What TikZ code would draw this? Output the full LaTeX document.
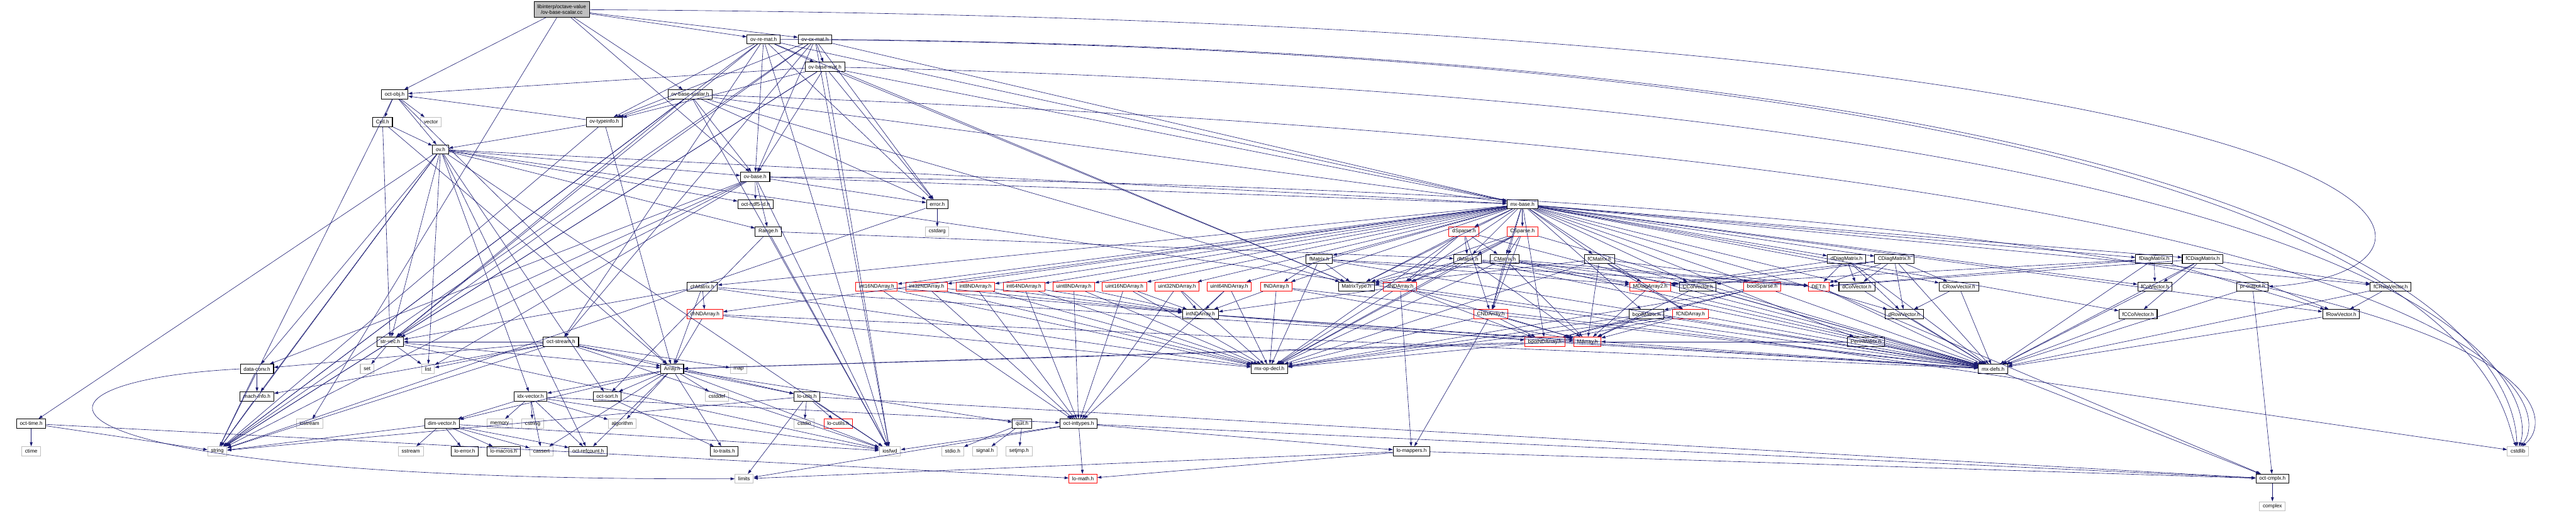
\documentclass[tikz,border=0pt]{standalone}
\usepackage{fontspec}
\setmainfont{Liberation Sans}
\usepackage{tikz}
\usetikzlibrary{arrows.meta}
\definecolor{edgeBlue}{HTML}{191970}
\definecolor{sysGray}{HTML}{BFBFBF}
\definecolor{truncRed}{HTML}{FF0000}

\tikzset{
  hdr/.style={draw=black, fill=white, line width=0.5pt, inner xsep=0.09cm, inner ysep=0pt,
    minimum height=0.25cm, font=\fontsize{4}{4.5}\selectfont},
  trunc/.style={hdr, draw=truncRed},
  sys/.style={hdr, draw=sysGray},
  rootnode/.style={hdr, fill=sysGray, align=center, minimum height=0.42cm},
  dep/.style={draw=edgeBlue, line width=0.3pt, -{Triangle[length=0.11cm, width=0.075cm]}}
}

\begin{document}
\begin{tikzpicture}
  \useasboundingbox (0,0) rectangle (70.17,-13.96);

  % Top part
  \node[rootnode] (root) at (15.30,-0.26) {libinterp/octave-value\\/ov-base-scalar.cc};
  \node[hdr] (ovremat) at (20.80,-1.07) {ov-re-mat.h};
  \node[hdr] (ovcxmat) at (22.20,-1.07) {ov-cx-mat.h};
  \node[hdr] (ovbasemat) at (22.47,-1.82) {ov-base-mat.h};
  \node[hdr] (ovbasescalar) at (18.80,-2.57) {ov-base-scalar.h};
  \node[hdr] (ovtypeinfo) at (16.46,-3.32) {ov-typeinfo.h};
  \node[hdr] (octobj) at (10.75,-2.57) {oct-obj.h};
  \node[hdr] (cell) at (10.42,-3.32) {Cell.h};
  \node[sys] (vector) at (11.74,-3.32) {vector};
  \node[hdr] (ovh) at (12.00,-4.07) {ov.h};
  \node[hdr] (ovbase) at (20.57,-4.81) {ov-base.h};
  \node[hdr] (hdfid) at (20.58,-5.56) {oct-hdf5-id.h};
  \node[hdr] (range) at (20.93,-6.30) {Range.h};
  \node[hdr] (error) at (25.53,-5.56) {error.h};
  \node[sys] (cstdarg) at (25.53,-6.30) {cstdarg};

  % Matrix headers
  \node[hdr] (mxbase) at (41.47,-5.56) {mx-base.h};
  \node[trunc] (dsparse) at (39.88,-6.30) {dSparse.h};
  \node[trunc] (csparse) at (41.47,-6.30) {CSparse.h};
  \node[hdr] (fmatrix) at (35.94,-7.05) {fMatrix.h};
  \node[hdr] (dmatrix) at (39.98,-7.05) {dMatrix.h};
  \node[hdr] (cmatrix) at (40.99,-7.05) {CMatrix.h};
  \node[hdr] (fcmatrix) at (43.57,-7.05) {fCMatrix.h};
  \node[hdr] (ddiag) at (50.30,-7.05) {dDiagMatrix.h};
  \node[hdr] (cdiag) at (51.60,-7.05) {CDiagMatrix.h};
  \node[hdr] (fdiag) at (58.68,-7.05) {fDiagMatrix.h};
  \node[hdr] (fcdiag) at (60.00,-7.05) {fCDiagMatrix.h};
  \node[hdr] (chmatrix) at (19.13,-7.80) {chMatrix.h};
  \node[trunc] (int16) at (23.88,-7.80) {int16NDArray.h};
  \node[trunc] (int32) at (25.24,-7.80) {int32NDArray.h};
  \node[trunc] (int8) at (26.57,-7.80) {int8NDArray.h};
  \node[trunc] (int64) at (27.89,-7.80) {int64NDArray.h};
  \node[trunc] (uint8) at (29.25,-7.80) {uint8NDArray.h};
  \node[trunc] (uint16) at (30.63,-7.80) {uint16NDArray.h};
  \node[trunc] (uint32) at (32.06,-7.80) {uint32NDArray.h};
  \node[trunc] (uint64) at (33.48,-7.80) {uint64NDArray.h};
  \node[trunc] (fnd) at (34.77,-7.80) {fNDArray.h};
  \node[hdr] (mtype) at (36.95,-7.80) {MatrixType.h};
  \node[trunc] (dnd) at (38.14,-7.80) {dNDArray.h};
  \node[trunc] (mdiag) at (44.95,-7.80) {MDiagArray2.h};
  \node[hdr] (ccolvec) at (46.25,-7.80) {CColVector.h};
  \node[trunc] (boolsparse) at (48.00,-7.80) {boolSparse.h};
  \node[trunc] (det) at (49.54,-7.80) {DET.h};
  \node[hdr] (dcolvec) at (50.58,-7.80) {dColVector.h};
  \node[hdr] (crowvec) at (53.36,-7.80) {CRowVector.h};
  \node[hdr] (fcolvec) at (58.70,-7.80) {fColVector.h};
  \node[hdr] (proutput) at (61.36,-7.80) {pr-output.h};
  \node[hdr] (fcrowvec) at (65.12,-7.80) {fCRowVector.h};
  \node[trunc] (chnd) at (19.20,-8.55) {chNDArray.h};
  \node[hdr] (intnd) at (32.70,-8.55) {intNDArray.h};
  \node[trunc] (cnd) at (40.61,-8.55) {CNDArray.h};
  \node[hdr] (boolmatrix) at (44.85,-8.55) {boolMatrix.h};
  \node[trunc] (fcnd) at (46.05,-8.55) {fCNDArray.h};
  \node[hdr] (drowvec) at (51.87,-8.55) {dRowVector.h};
  \node[hdr] (fccolvec) at (58.24,-8.55) {fCColVector.h};
  \node[hdr] (frowvec) at (63.77,-8.55) {fRowVector.h};
  \node[trunc] (boolnd) at (42.08,-9.30) {boolNDArray.h};
  \node[trunc] (marray) at (43.24,-9.30) {MArray.h};
  \node[hdr] (permmat) at (50.83,-9.30) {PermMatrix.h};

  % Lower part
  \node[hdr] (strvec) at (10.63,-9.30) {str-vec.h};
  \node[hdr] (octstream) at (15.28,-9.30) {oct-stream.h};
  \node[hdr] (datconv) at (7.00,-10.04) {data-conv.h};
  \node[sys] (set) at (10.00,-10.04) {set};
  \node[sys] (list) at (11.66,-10.04) {list};
  \node[hdr] (array) at (18.31,-10.04) {Array.h};
  \node[sys] (map) at (20.12,-10.04) {map};
  \node[hdr] (mxopdecl) at (34.58,-10.04) {mx-op-decl.h};
  \node[hdr] (mxdefs) at (54.29,-10.04) {mx-defs.h};
  \node[hdr] (machinfo) at (7.00,-10.79) {mach-info.h};
  \node[hdr] (idxvec) at (14.45,-10.79) {idx-vector.h};
  \node[hdr] (octsort) at (16.54,-10.79) {oct-sort.h};
  \node[sys] (cstddef) at (19.53,-10.79) {cstddef};
  \node[hdr] (loutils) at (21.98,-10.79) {lo-utils.h};
  \node[hdr] (octtime) at (0.85,-11.53) {oct-time.h};
  \node[sys] (iostream) at (8.43,-11.53) {iostream};
  \node[hdr] (dimvec) at (12.04,-11.53) {dim-vector.h};
  \node[sys] (memory) at (13.61,-11.53) {memory};
  \node[sys] (cstring) at (14.51,-11.53) {cstring};
  \node[sys] (algorithm) at (16.95,-11.53) {algorithm};
  \node[sys] (cstdio) at (21.91,-11.53) {cstdio};
  \node[trunc] (locutils) at (22.83,-11.53) {lo-cutils.h};
  \node[hdr] (quit) at (27.84,-11.53) {quit.h};
  \node[hdr] (inttypes) at (29.38,-11.53) {oct-inttypes.h};
  \node[sys] (ctime) at (0.85,-12.28) {ctime};
  \node[sys] (string) at (5.92,-12.28) {string};
  \node[sys] (sstream) at (11.19,-12.28) {sstream};
  \node[hdr] (loerror) at (12.66,-12.28) {lo-error.h};
  \node[hdr] (lomacros) at (13.72,-12.28) {lo-macros.h};
  \node[sys] (cassert) at (14.75,-12.28) {cassert};
  \node[hdr] (refcount) at (16.02,-12.28) {oct-refcount.h};
  \node[hdr] (lotraits) at (19.73,-12.28) {lo-traits.h};
  \node[sys] (iosfwd) at (24.24,-12.28) {iosfwd};
  \node[sys] (stdioh) at (25.95,-12.28) {stdio.h};
  \node[sys] (signalh) at (26.83,-12.28) {signal.h};
  \node[sys] (setjmph) at (27.76,-12.28) {setjmp.h};
  \node[hdr] (lomappers) at (38.45,-12.28) {lo-mappers.h};
  \node[sys] (cstdlib) at (68.59,-12.28) {cstdlib};
  \node[sys] (limits) at (20.27,-13.03) {limits};
  \node[trunc] (lomath) at (29.50,-13.03) {lo-math.h};
  \node[hdr] (octcmplx) at (61.90,-13.03) {oct-cmplx.h};
  \node[sys] (complex) at (61.90,-13.78) {complex};

  % Long edges round the right side
  \draw[dep] (root) .. controls (68.0,-0.55) and (68.2,-7.4) .. (proutput.east);
  \foreach \a/\y/\x/\e in {ovremat/-1.35/68.1/110, ovcxmat/-1.5/68.5/100, ovbasemat/-2.9/69.0/80,
      ovbasescalar/-4.3/69.5/65, ovbase/-5.3/69.9/50}
    \draw[dep] (\a) .. controls (\x,\y) and (\x,-11.2) .. (cstdlib.\e);
  \draw[dep] (ovh) -- (cstdlib);
  \draw[dep] (datconv.west) .. controls (-0.4,-10.4) and (0.2,-13.1) .. (limits.west);

  % Include edges
  \foreach \a/\b in {root/ovremat, root/ovcxmat, root/ovbasescalar, root/ovbase, root/octobj, root/iostream,
      ovremat/ovbasemat, ovremat/ovtypeinfo, ovremat/ovbase, ovremat/mxbase, ovremat/strvec, ovremat/error,
      ovremat/octstream, ovremat/string, ovremat/iosfwd, ovremat/mtype,
      ovcxmat/ovbasemat, ovcxmat/ovtypeinfo, ovcxmat/ovbase, ovcxmat/mxbase, ovcxmat/strvec, ovcxmat/error,
      ovcxmat/octstream, ovcxmat/string, ovcxmat/iosfwd,
      ovbasemat/ovtypeinfo, ovbasemat/ovbase, ovbasemat/mxbase, ovbasemat/mtype, ovbasemat/strvec,
      ovbasemat/error, ovbasemat/octobj, ovbasemat/string, ovbasemat/iosfwd,
      ovbasescalar/ovtypeinfo, ovbasescalar/ovbase, ovbasescalar/mxbase, ovbasescalar/strvec,
      ovbasescalar/error, ovbasescalar/string, ovbasescalar/iosfwd, ovbasescalar/mtype,
      ovtypeinfo/ovh, ovtypeinfo/octobj, ovtypeinfo/array, ovtypeinfo/string,
      octobj/cell, octobj/vector, octobj/ovh, octobj/string, octobj/array,
      cell/ovh, cell/array, cell/strvec,
      ovh/string, ovh/iosfwd, ovh/list, ovh/range, ovh/datconv, ovh/idxvec, ovh/machinfo, ovh/mxbase,
      ovh/octtime, ovh/strvec, ovh/octsort, ovh/hdfid, ovh/ovbase, ovh/refcount,
      ovbase/hdfid, ovbase/range, ovbase/error, ovbase/mxbase, ovbase/datconv, ovbase/strvec,
      ovbase/string, ovbase/list, ovbase/iosfwd,
      range/dmatrix, range/octsort, range/iosfwd,
      error/cstdarg, error/string}
    \draw[dep] (\a) -- (\b);

  \foreach \b in {mtype, boolmatrix, chmatrix, dmatrix, cmatrix, fmatrix, fcmatrix, ccolvec, boolnd, chnd,
      dnd, cnd, fnd, fcnd, int8, int16, int32, int64, uint8, uint16, uint32, uint64, boolsparse, dsparse, csparse,
      ddiag, cdiag, fdiag, fcdiag, dcolvec, crowvec, fcolvec, fcrowvec, drowvec, fccolvec, frowvec, permmat}
    \draw[dep] (mxbase) -- (\b);

  \foreach \a in {int8, int16, int32, int64, uint8, uint16, uint32, uint64}
    \foreach \b in {intnd, inttypes, mxopdecl}
      \draw[dep] (\a) -- (\b);

  \foreach \a in {ddiag, cdiag, fdiag, fcdiag, det, dcolvec, crowvec, fcolvec, fcrowvec, drowvec, fccolvec,
      frowvec, permmat, dmatrix, cmatrix, fmatrix, fcmatrix, boolmatrix, chmatrix, dnd, cnd, fnd, fcnd, chnd,
      boolnd, mdiag, ccolvec, intnd, dsparse, csparse, boolsparse}
    \draw[dep] (\a) -- (mxdefs);

  \foreach \a/\b in {chmatrix/chnd, chmatrix/array, chmatrix/strvec, chmatrix/mxopdecl,
      chnd/array, chnd/mxopdecl,
      intnd/marray, intnd/boolnd,
      fmatrix/fnd, fmatrix/mtype, fmatrix/mxopdecl, fmatrix/mdiag, fmatrix/det,
      fnd/intnd, fnd/marray, fnd/mxopdecl,
      dsparse/dmatrix, dsparse/cmatrix, dsparse/mtype, dsparse/dnd, dsparse/cnd, dsparse/mxopdecl,
      csparse/dmatrix, csparse/cmatrix, csparse/mtype, csparse/dnd, csparse/cnd, csparse/mxopdecl,
      dmatrix/mtype, dmatrix/dnd, dmatrix/mdiag, dmatrix/mxopdecl, dmatrix/marray, dmatrix/det,
      cmatrix/cnd, cmatrix/mtype, cmatrix/mdiag, cmatrix/ccolvec, cmatrix/mxopdecl, cmatrix/marray, cmatrix/det,
      fcmatrix/fcnd, fcmatrix/mdiag, fcmatrix/mtype, fcmatrix/mxopdecl, fcmatrix/marray, fcmatrix/det,
      dnd/marray, dnd/intnd, dnd/boolnd, dnd/mxopdecl, dnd/lomappers,
      cnd/marray, cnd/boolnd, cnd/mxopdecl, cnd/lomappers,
      fcnd/marray, fcnd/boolnd, fcnd/mxopdecl,
      boolmatrix/boolnd, boolmatrix/marray, boolmatrix/mxopdecl,
      boolnd/array, boolnd/mxopdecl, marray/array, ccolvec/marray, mdiag/marray,
      boolsparse/boolmatrix, boolsparse/boolnd, boolsparse/mxopdecl,
      ddiag/det, ddiag/dcolvec, ddiag/drowvec, ddiag/mdiag,
      cdiag/det, cdiag/crowvec, cdiag/dcolvec, cdiag/drowvec, cdiag/ccolvec, cdiag/mdiag,
      fdiag/fcolvec, fdiag/frowvec, fdiag/det, fdiag/mdiag,
      fcdiag/fcolvec, fcdiag/fccolvec, fcdiag/fcrowvec, fcdiag/frowvec, fcdiag/det,
      crowvec/drowvec, fcrowvec/frowvec, permmat/marray,
      det/octcmplx, mxdefs/octcmplx, proutput/octcmplx, proutput/mxdefs, lomappers/octcmplx,
      inttypes/octcmplx, loutils/octcmplx, octcmplx/complex,
      strvec/set, strvec/list, strvec/string, strvec/iosfwd, strvec/array,
      datconv/string, datconv/machinfo, machinfo/string,
      octtime/ctime, octtime/string, octtime/lomath,
      dimvec/sstream, dimvec/cassert, dimvec/loerror, dimvec/lomacros, dimvec/refcount, dimvec/string,
      dimvec/iosfwd,
      array/idxvec, array/octsort, array/cstddef, array/loutils, array/algorithm, array/cassert,
      array/refcount, array/lotraits, array/iosfwd, array/dimvec, array/quit,
      idxvec/memory, idxvec/cstring, idxvec/algorithm, idxvec/cassert, idxvec/refcount, idxvec/dimvec,
      idxvec/inttypes, idxvec/iosfwd,
      octsort/lotraits,
      loutils/cstdio, loutils/locutils, loutils/iosfwd, loutils/string, loutils/limits,
      inttypes/lomath, inttypes/limits, inttypes/iosfwd, inttypes/lomappers,
      quit/stdioh, quit/signalh, quit/setjmph,
      lomappers/lomath, lomappers/limits,
      octstream/array, octstream/map, octstream/string, octstream/list, octstream/iosfwd,
      octstream/datconv, octstream/machinfo, octstream/loutils, octstream/strvec}
    \draw[dep] (\a) -- (\b);
\end{tikzpicture}
\end{document}
